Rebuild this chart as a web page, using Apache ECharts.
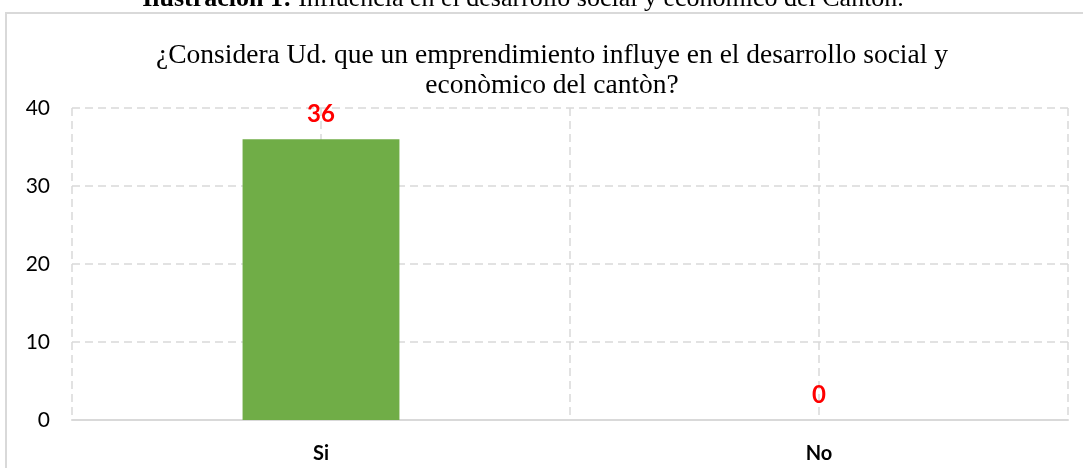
<!DOCTYPE html>
<html>
<head>
<meta charset="utf-8">
<style>
  html, body { margin: 0; padding: 0; background: #ffffff; }
  #chart { width: 1083px; height: 468px; }
</style>
<script src="https://cdn.jsdelivr.net/npm/echarts@6/dist/echarts.min.js"></script>
</head>
<body>
<div id="chart"></div>
<script>
const categories = ["Si", "No"];
const values = [36, 0];
const yTicks = [0, 10, 20, 30, 40];

const chart = echarts.init(document.querySelector("#chart"));

chart.setOption({
  backgroundColor: "#ffffff",
  animation: false,
  title: [
    {
      text: "{b|Ilustración 1:} Influencia en el desarrollo social y económico del Cantón.",
      left: 518,
      top: -19,
      textAlign: "center",
      textStyle: {
        fontFamily: "Liberation Serif",
        fontSize: 26,
        fontWeight: "normal",
        color: "#000000",
        rich: {
          b: { fontFamily: "Liberation Serif", fontSize: 26, fontWeight: "bold", color: "#000000" }
        }
      }
    },
    {
      text: "¿Considera Ud. que un emprendimiento influye en el desarrollo social y\neconòmico del cantòn?",
      left: 547,
      top: 36,
      textAlign: "center",
      textStyle: {
        fontFamily: "Liberation Serif",
        fontSize: 27.5,
        fontWeight: "normal",
        color: "#000000",
        lineHeight: 30
      }
    }
  ],
  graphic: [
    {
      type: "rect",
      shape: { x: 6, y: 13, width: 1100, height: 480 },
      style: { fill: "none", stroke: "#d9d9d9", lineWidth: 2 },
      silent: true
    }
  ],
  grid: { left: 72, right: 15, top: 108, bottom: 48 },
  xAxis: [
    {
      type: "category",
      data: categories,
      axisLine: { show: true, lineStyle: { color: "#d9d9d9", width: 2 } },
      axisTick: { show: false },
      splitLine: { show: false },
      axisLabel: {
        margin: 24,
        fontFamily: "Lato",
        fontSize: 20,
        fontWeight: "bold",
        color: "#000000"
      }
    },
    {
      type: "value",
      min: 0,
      max: 4,
      interval: 1,
      position: "bottom",
      axisLine: { show: false },
      axisTick: { show: false },
      axisLabel: { show: false },
      splitLine: {
        show: true,
        lineStyle: { color: "#d9d9d9", type: [8, 5], width: 1.5 }
      }
    }
  ],
  yAxis: {
    type: "value",
    min: yTicks[0],
    max: yTicks[yTicks.length - 1],
    interval: 10,
    axisLine: { show: false },
    axisTick: { show: false },
    axisLabel: {
      margin: 22,
      fontFamily: "Lato",
      fontSize: 21,
      color: "#000000"
    },
    splitLine: {
      show: true,
      lineStyle: { color: "#d9d9d9", type: [8, 5], width: 1.5 }
    }
  },
  series: [
    {
      type: "bar",
      data: values,
      xAxisIndex: 0,
      barWidth: "31.5%",
      itemStyle: { color: "#70ad47" },
      label: {
        show: true,
        position: "top",
        distance: 13,
        fontFamily: "Lato",
        fontSize: 24,
        fontWeight: "bold",
        color: "#ff0000"
      },
      z: 3
    }
  ]
});
</script>
</body>
</html>
